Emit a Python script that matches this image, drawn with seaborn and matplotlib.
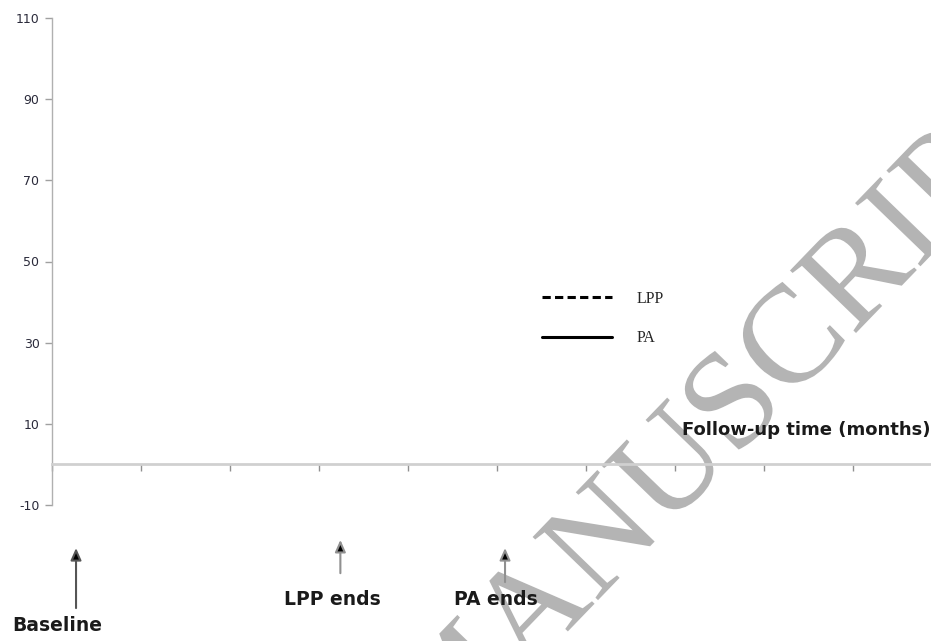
import matplotlib
matplotlib.use('Agg')
import matplotlib.pyplot as plt
import matplotlib.patheffects as pe
import seaborn as sns
from matplotlib.lines import Line2D

# ---- data / text content ----
y_ticks = [-10, 10, 30, 50, 70, 90, 110]
x_ticks = [0, 1, 2, 3, 4, 5, 6, 7, 8, 9]
x_max = 9.876
series_names = ['LPP', 'PA']
series_styles = [(0, (2.7, 1.4)), '-']
event_labels = ['Baseline', 'LPP ends', 'PA ends']
event_x = [0.27, 3.24, 5.09]
event_text_x = [0.056, 3.15, 4.99]
event_tip_y = [-20.6, -18.6, -20.6]
event_tail_y = [-35.4, -26.8, -29.0]
event_text_y = [-39.8, -33.4, -33.4]
axis_label = 'Follow-up time (months)'
watermark = 'MANUSCRIPT'

sns.set_theme(style='white')
plt.rcParams['font.family'] = ['DejaVu Sans']

fig = plt.figure(figsize=(9.31, 6.41), dpi=100)
fig.patch.set_facecolor('white')

# watermark behind everything
fig.text(0.4724, -0.1919, watermark, rotation=46, rotation_mode='anchor',
         ha='left', va='baseline', fontsize=100, family='Liberation Serif',
         color='#b4b4b4', zorder=-5,
         path_effects=[pe.Stroke(linewidth=1.5, foreground='white'), pe.Normal()])

ax = fig.add_axes([52 / 931, 1 - 505 / 641, 879 / 931, 487 / 641])
ax.set_facecolor('none')
ax.set_xlim(0, x_max)
ax.set_ylim(-10, 110)
ax.set_yticks(y_ticks)
ax.set_yticklabels([str(v) for v in y_ticks])
ax.set_xticks(x_ticks)
ax.set_xticklabels([])

for s in ['top', 'right']:
    ax.spines[s].set_visible(False)
ax.spines['left'].set_color('#b0b0b0')
ax.spines['left'].set_linewidth(1.0)
ax.spines['bottom'].set_position(('data', 0))
ax.spines['bottom'].set_color('#d0d0d0')
ax.spines['bottom'].set_linewidth(2.0)

ax.tick_params(axis='y', direction='out', length=5, width=1, color='#a0a0a0',
               labelsize=9, labelcolor='#2a2a3a', pad=4, left=True)
ax.tick_params(axis='x', direction='out', length=5, width=1, color='#909090',
               bottom=True)

# legend
handles = [Line2D([], [], color='black', lw=2.2, ls=st) for st in series_styles]
leg = ax.legend(handles, series_names, loc='upper left',
                bbox_to_anchor=((542 - 52) / 879, (505 - 291) / 487),
                frameon=False, handlelength=4.4, handletextpad=1.5,
                labelspacing=1.45, borderpad=0, borderaxespad=0,
                prop={'family': 'Liberation Serif', 'size': 11.5})

# axis label
ax.text(x_max, 8.5, axis_label, ha='right', va='center', fontsize=13,
        fontweight='bold', color='#1a1a1a', clip_on=False)

# event arrows
shaft_cols = ['#555555', '#909090', '#909090']
for lab, x, tx, tip, tail, ty, sc in zip(event_labels, event_x, event_text_x,
                                          event_tip_y, event_tail_y,
                                          event_text_y, shaft_cols):
    ax.annotate('', xy=(x, tip), xytext=(x, tail), annotation_clip=False,
                arrowprops=dict(arrowstyle='-|>,head_length=0.45,head_width=0.2',
                                fc='black', ec=sc, lw=1.5,
                                mutation_scale=16, shrinkA=0, shrinkB=0))
    ax.text(tx, ty, lab, ha='center', va='center', fontsize=13.5,
            fontweight='bold', color='#1a1a1a', clip_on=False)

fig.savefig('out.png', dpi=100)
